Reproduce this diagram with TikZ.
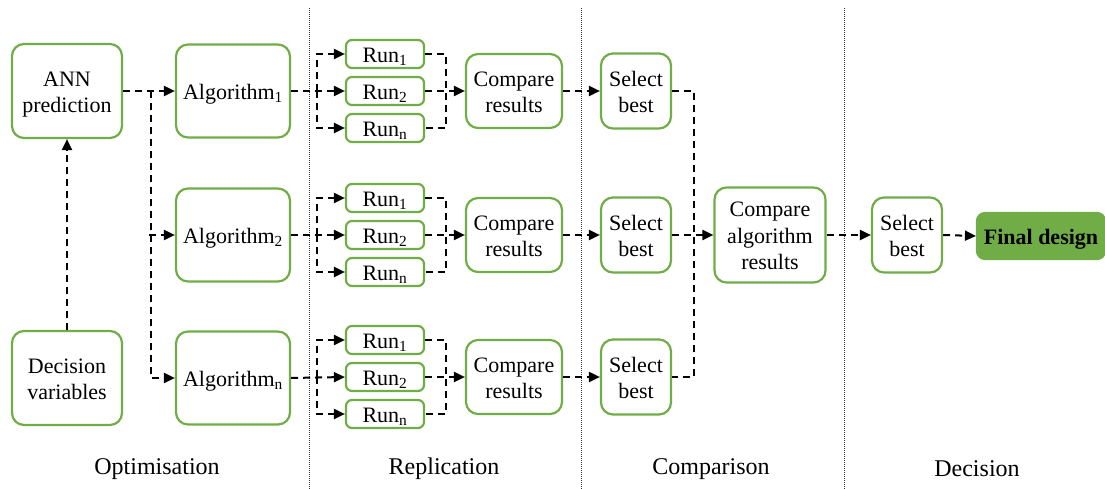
\documentclass[tikz,border=0pt]{standalone}
\usepackage{fontspec}
\setmainfont{Liberation Serif}
\usetikzlibrary{arrows.meta,calc}
\definecolor{boxgreen}{RGB}{112,173,71}
\newcommand{\bxt}[1]{\raisebox{-3pt}[\height][\depth]{\begin{tabular}{@{}c@{}}#1\end{tabular}}}
\begin{document}
\begin{tikzpicture}[x=1pt,y=-1pt,
  box/.style={draw=boxgreen, line width=2.2pt, rounded corners=12pt, fill=white, inner sep=0pt, font=\fontsize{22}{26.5}\selectfont},
  runbox/.style={box, rounded corners=6pt, minimum width=78pt, minimum height=28pt},
  dline/.style={line width=2pt, dash pattern=on 7pt off 5pt},
  conn/.style={dline, -{Triangle[length=11pt,width=10pt]}},
  divider/.style={line width=0.8pt, dash pattern=on 1pt off 1pt, black!80},
  lab/.style={font=\fontsize{24}{28}\selectfont}]
\useasboundingbox (0,0) rectangle (1105,489);
% dividers
\draw[divider] (309,8) -- (309,489);
\draw[divider] (581,8) -- (581,489);
\draw[divider] (844,8) -- (844,489);
% optimisation
\node[box, minimum width=110pt, minimum height=94pt] (ann) at (67,91) {\bxt{ANN\\prediction}};
\node[box, minimum width=110pt, minimum height=94pt] (dec) at (67,378) {\bxt{Decision\\variables}};
\node[box, minimum width=114pt, minimum height=93pt] (alg1) at (233,91) {\bxt{Algorithm\textsubscript{1}}};
\node[box, minimum width=114pt, minimum height=93pt] (alg2) at (233,235) {\bxt{Algorithm\textsubscript{2}}};
\node[box, minimum width=114pt, minimum height=93pt] (algn) at (233,378) {\bxt{Algorithm\textsubscript{n}}};
% replication rows
\foreach \r/\y in {1/91, 2/235, 3/377}{
  \node[runbox] (r\r a) at (385,\y-37) {\bxt{Run\textsubscript{1}}};
  \node[runbox] (r\r b) at (385,\y) {\bxt{Run\textsubscript{2}}};
  \node[runbox] (r\r c) at (385,\y+37) {\bxt{Run\textsubscript{n}}};
  \node[box, minimum width=96pt, minimum height=74pt] (cr\r) at (514,\y) {\bxt{Compare\\results}};
  \node[box, minimum width=70pt, minimum height=75pt] (sb\r) at (636,\y) {\bxt{Select\\best}};
}
\node[box, minimum width=111pt, minimum height=95pt] (ca) at (770,235) {\bxt{Compare\\algorithm\\results}};
\node[box, minimum width=70pt, minimum height=75pt] (sbf) at (907,235) {\bxt{Select\\best}};
\node[box, fill=boxgreen, rounded corners=8pt, minimum width=128pt, minimum height=46pt, font=\fontsize{22}{26.5}\selectfont\bfseries] (fin) at (1041,236) {\bxt{Final design}};
% connectors optimisation
\draw[conn] (dec) -- (ann);
\draw[conn] (ann.east) -- (alg1.west);
\draw[conn] (ann.east) ++(28,0) |- (algn.west);
\draw[conn] (alg2.west) ++(-26,0) -- (alg2.west);
% replication connectors
\draw[conn] (alg1.east) -- (r1b.west);
\draw[conn] (alg2.east) -- (r2b.west);
\draw[conn] (algn.east) -- (r3b.west);
\foreach \r in {1,2,3}{
  \draw[conn] ($(r\r b.west)+(-28,0)$) |- (r\r a.west);
  \draw[conn] ($(r\r b.west)+(-28,0)$) |- (r\r c.west);
  \draw[dline] (r\r a.east) -- ++(21,0) |- (r\r c.east);
  \draw[conn] (r\r b.east) -- (cr\r.west);
  \draw[conn] (cr\r.east) -- (sb\r.west);
}
% comparison
\draw[dline] (sb1.east) -- ++(22,0) |- (sb3.east);
\draw[conn] (sb2.east) -- (ca.west);
\draw[conn] (ca.east) -- (sbf.west);
\draw[conn] (sbf.east) -- (fin.west);
% labels
\node[lab] (l1) at (157,469) {Optimisation};
\node[lab] (l2) at (444,469) {Replication};
\node[lab] (l3) at (711,469) {Comparison};
\node[lab] (l4) at (977,469) {Decision};
\end{tikzpicture}
\end{document}
